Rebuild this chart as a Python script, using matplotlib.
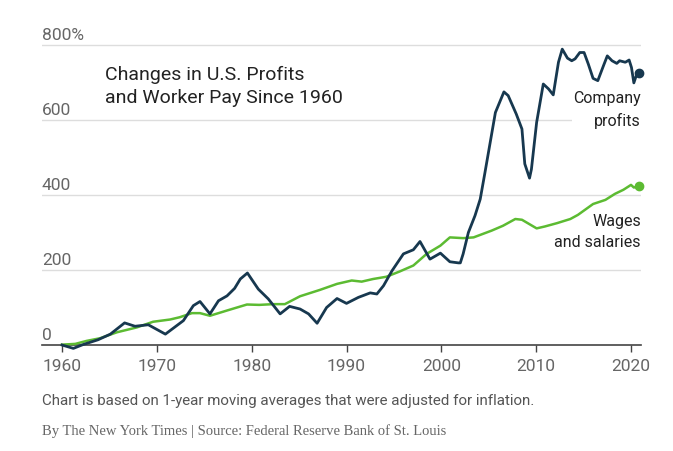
import numpy as np
import matplotlib.pyplot as plt

# company profits, % change since 1960
profit_years = [1960, 1961.2, 1962.2, 1963.8, 1965.1, 1966.6, 1967.7, 1969.1, 1970.9,
                1972.8, 1973.85, 1974.55, 1975.6, 1976.5, 1977.4, 1978.2, 1978.8, 1979.55,
                1980.7, 1981.75, 1983.0, 1984.0, 1985.1, 1986.0, 1986.9, 1987.9, 1989.0,
                1990.0, 1991.25, 1992.5, 1993.2, 1993.9, 1994.8, 1996.0, 1997.05, 1997.75,
                1998.8, 1999.9, 2000.9, 2001.8, 2002.0, 2002.3, 2002.85, 2003.55, 2004.1,
                2004.6, 2005.7, 2006.6, 2007.05, 2007.9, 2008.5, 2008.8, 2009.3, 2009.5,
                2010.05, 2010.75, 2011.3, 2011.8, 2012.35, 2012.75, 2013.3, 2013.75, 2014.1,
                2014.6, 2015.05, 2015.5, 2016.0, 2016.5, 2017.1, 2017.5, 2018.0, 2018.5,
                2018.8, 2019.4, 2019.8, 2020.05, 2020.3, 2020.55, 2020.8]
profit_vals = [0, -9, 1, 14, 29, 59, 50, 54, 29,
               65, 105, 116, 83, 118, 131, 151, 176, 192,
               149, 123, 83, 103, 96, 83, 58, 100, 124,
               111, 127, 139, 136, 158, 198, 243, 254, 276,
               229, 245, 222, 219, 219, 243, 300, 345, 389,
               460, 620, 675, 665, 616, 576, 483, 445, 469,
               594, 696, 683, 667, 754, 789, 765, 758, 763,
               780, 780, 749, 711, 705, 745, 771, 758, 751,
               758, 754, 760, 740, 699, 718, 725]

# wages and salaries, % change since 1960
wage_years = [1960, 1961.4, 1962.6, 1964.0, 1965.8, 1967.9, 1969.6, 1971.4, 1972.4,
              1973.7, 1974.55, 1975.6, 1977.4, 1979.5, 1980.8, 1982.3, 1983.5, 1985.1,
              1987.2, 1989.0, 1990.55, 1991.6, 1992.8, 1994.2, 1995.6, 1997.05, 1998.45,
              1999.9, 2000.9, 2002.3, 2003.4, 2005.3, 2006.5, 2007.8, 2008.5, 2010.05,
              2010.9, 2012.2, 2013.6, 2014.4, 2016.0, 2017.3, 2018.3, 2019.2, 2020.0,
              2020.3, 2020.8]
wage_vals = [1, 3, 11, 18, 34, 47, 62, 68, 74,
             85, 85, 78, 92, 108, 107, 109, 109, 130,
             147, 163, 172, 169, 176, 182, 196, 212, 243,
             265, 287, 285, 287, 305, 318, 336, 334, 311,
             316, 325, 336, 347, 376, 387, 403, 414, 427,
             420, 423]

y_ticks = [0, 200, 400, 600, 800]
y_labels = ['0', '200', '400', '600', '800%']
x_ticks = [1960, 1970, 1980, 1990, 2000, 2010, 2020]

navy = '#17384f'
green = '#5cbb32'
grey = '#666666'
plt.rcParams['font.family'] = ['Roboto', 'DejaVu Sans']

fig = plt.figure(figsize=(6.73, 4.52), dpi=100)
ax = fig.add_axes([0.0624, 0.2096, 0.890, 0.7052])
ax.set_xlim(1957.89, 2021.05)
ax.set_ylim(-30, 820)

for v in y_ticks[1:]:
    ax.axhline(v, color='#dddddd', lw=1, zorder=1)
for v, lab in zip(y_ticks, y_labels):
    ax.annotate(lab, (0, v), xycoords=('axes fraction', 'data'), xytext=(0, 2),
                textcoords='offset points', ha='left', va='bottom', fontsize=12.5, color=grey)

ax.plot(wage_years, wage_vals, color=green, lw=1.8, zorder=3)
ax.plot(profit_years, profit_vals, color=navy, lw=2, zorder=4)
ax.plot(wage_years[-1], wage_vals[-1], 'o', color=green, ms=6, zorder=5, clip_on=False)
ax.plot(profit_years[-1], profit_vals[-1], 'o', color=navy, ms=6, zorder=5, clip_on=False)

for s in ['top', 'right', 'left']:
    ax.spines[s].set_visible(False)
ax.spines['bottom'].set_position(('data', 0))
ax.spines['bottom'].set_color('#444444')
ax.spines['bottom'].set_linewidth(1.2)
ax.set_yticks([])
ax.set_xticks(x_ticks)
ax.tick_params(axis='x', length=5, width=1, color='#444444', pad=4, labelsize=12.5, labelcolor=grey)

ax.text(1964.5, 748, 'Changes in U.S. Profits\nand Worker Pay Since 1960', fontsize=14,
        color='#222222', va='top', ha='left', linespacing=1.35)
ax.text(2021.05, 680, 'Company\nprofits', fontsize=11.5, color='#222222', ha='right', va='top',
        linespacing=1.5, bbox=dict(facecolor='white', edgecolor='none', pad=1), zorder=6)
ax.text(2021.05, 352, 'Wages\nand salaries', fontsize=11.5, color='#222222', ha='right', va='top',
        linespacing=1.5, zorder=6)

fig.text(42 / 673, 1 - 401 / 452, 'Chart is based on 1-year moving averages that were adjusted for inflation.',
         fontsize=10.9, color='#555555', va='center', ha='left')
fig.text(42 / 673, 1 - 431 / 452, 'By The New York Times | Source: Federal Reserve Bank of St. Louis',
         fontsize=10.5, color='#666666', va='center', ha='left',
         family=['Liberation Serif', 'DejaVu Serif'])

fig.savefig('out.png', dpi=100)
